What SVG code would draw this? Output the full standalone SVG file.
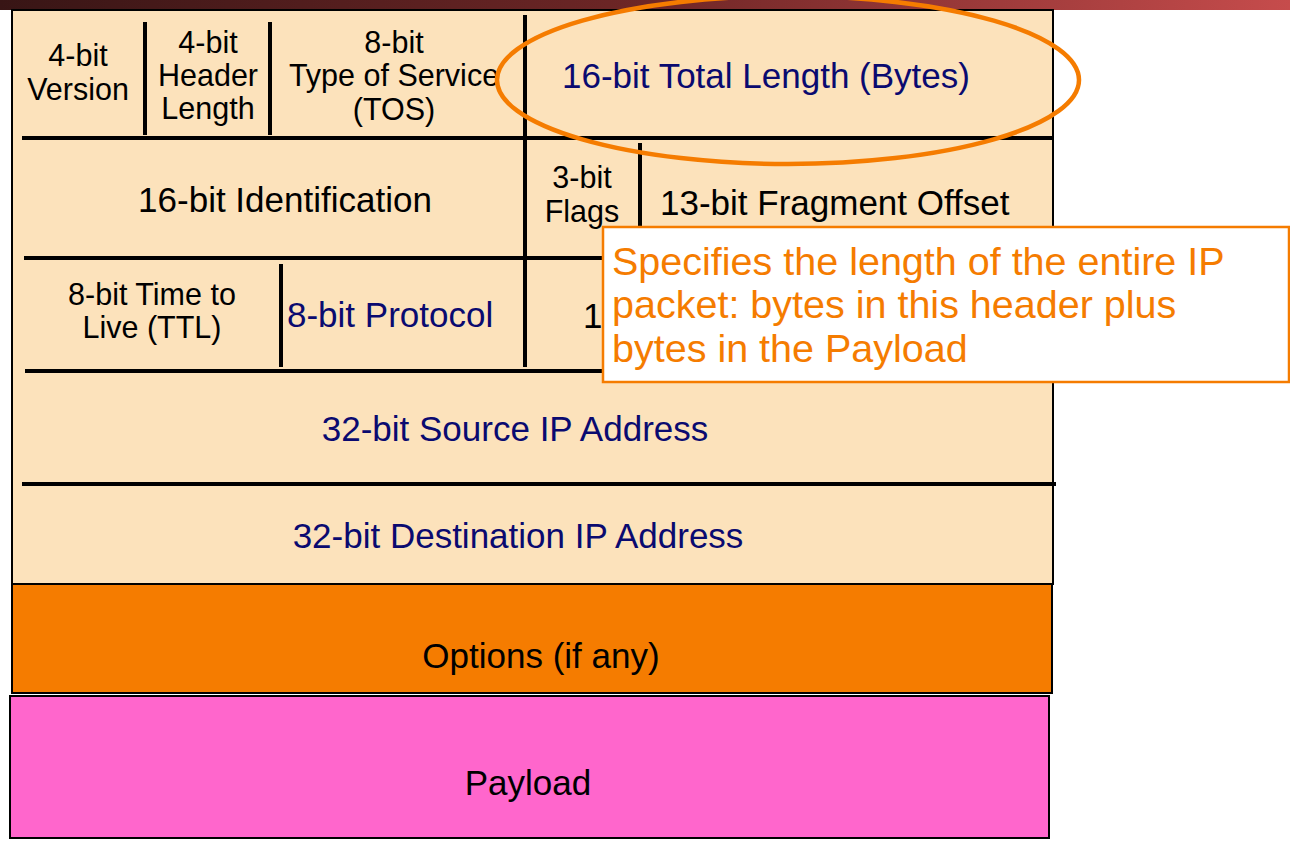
<svg xmlns="http://www.w3.org/2000/svg" width="1290" height="841" viewBox="0 0 1290 841">
<defs>
<linearGradient id="bar" x1="0" y1="0" x2="1" y2="0">
<stop offset="0" stop-color="#381515"/>
<stop offset="0.5" stop-color="#6e2626"/>
<stop offset="1" stop-color="#c64c4c"/>
</linearGradient>
<style>
text{font-family:"Liberation Sans",Arial,sans-serif;}
.s{font-size:30.5px;fill:#000;text-anchor:middle;}
.b{font-size:35px;fill:#000;}
.n{font-size:35px;fill:#0a0a70;}
.m{text-anchor:middle;}
.div{stroke:#000;stroke-width:4;fill:none;}
.call{font-size:39.5px;fill:#f57c00;}
</style>
</defs>
<rect x="0" y="0" width="1290" height="10" fill="url(#bar)"/>
<g id="header">
<rect x="12" y="10" width="1041" height="574" fill="#fce2bb" stroke="#000" stroke-width="2"/>
</g>
<g id="dividers">
<line class="div" x1="145" y1="22" x2="145" y2="135"/>
<line class="div" x1="270" y1="22" x2="270" y2="135"/>
<line class="div" x1="525" y1="15" x2="525" y2="367"/>
<line class="div" x1="22" y1="138" x2="1053" y2="138"/>
<line class="div" x1="640" y1="143" x2="640" y2="255"/>
<line class="div" x1="24" y1="258" x2="1053" y2="258"/>
<line class="div" x1="281" y1="264" x2="281" y2="367"/>
<line class="div" x1="25" y1="371" x2="1053" y2="371"/>
<line class="div" x1="22" y1="484" x2="1056" y2="484"/>
</g>
<g id="version"><text class="s" x="78" y="66">4-bit</text><text class="s" x="78" y="100">Version</text></g>
<g id="header-length"><text class="s" x="208" y="53">4-bit</text><text class="s" x="208" y="86">Header</text><text class="s" x="208" y="119">Length</text></g>
<g id="tos"><text class="s" x="394" y="53">8-bit</text><text class="s" x="394" y="86">Type of Service</text><text class="s" x="394" y="120">(TOS)</text></g>
<g id="total-length"><text class="n" x="562" y="88">16-bit Total Length (Bytes)</text></g>
<g id="identification"><text class="b m" x="285" y="212">16-bit Identification</text></g>
<g id="flags"><text class="s" x="582" y="188">3-bit</text><text class="s" x="582" y="222">Flags</text></g>
<g id="fragment-offset"><text class="b" x="660" y="215">13-bit Fragment Offset</text></g>
<g id="ttl"><text class="s" x="152" y="305">8-bit Time to</text><text class="s" x="152" y="338">Live (TTL)</text></g>
<g id="protocol"><text class="n" x="287" y="327">8-bit Protocol</text></g>
<g id="checksum"><text class="b" x="583" y="328">1</text></g>
<g id="source"><text class="n m" x="515" y="441">32-bit Source IP Address</text></g>
<g id="destination"><text class="n m" x="518" y="548">32-bit Destination IP Address</text></g>
<g id="options">
<rect x="12" y="584" width="1040" height="109" fill="#f57c00" stroke="#000" stroke-width="2"/>
<text class="b m" x="541" y="668">Options (if any)</text>
</g>
<g id="payload">
<rect x="10" y="696" width="1039" height="142" fill="#ff66cc" stroke="#000" stroke-width="2"/>
<text class="b m" x="528" y="795">Payload</text>
</g>
<g id="highlight">
<ellipse cx="788" cy="80" rx="291" ry="84" fill="none" stroke="#f57c00" stroke-width="4.5"/>
</g>
<g id="callout">
<rect x="603" y="227" width="686" height="155" fill="#fff" stroke="#f57c00" stroke-width="2.5"/>
<text class="call" x="612" y="275">Specifies the length of the entire IP</text>
<text class="call" x="612" y="318">packet: bytes in this header plus</text>
<text class="call" x="612" y="362">bytes in the Payload</text>
</g>
</svg>
